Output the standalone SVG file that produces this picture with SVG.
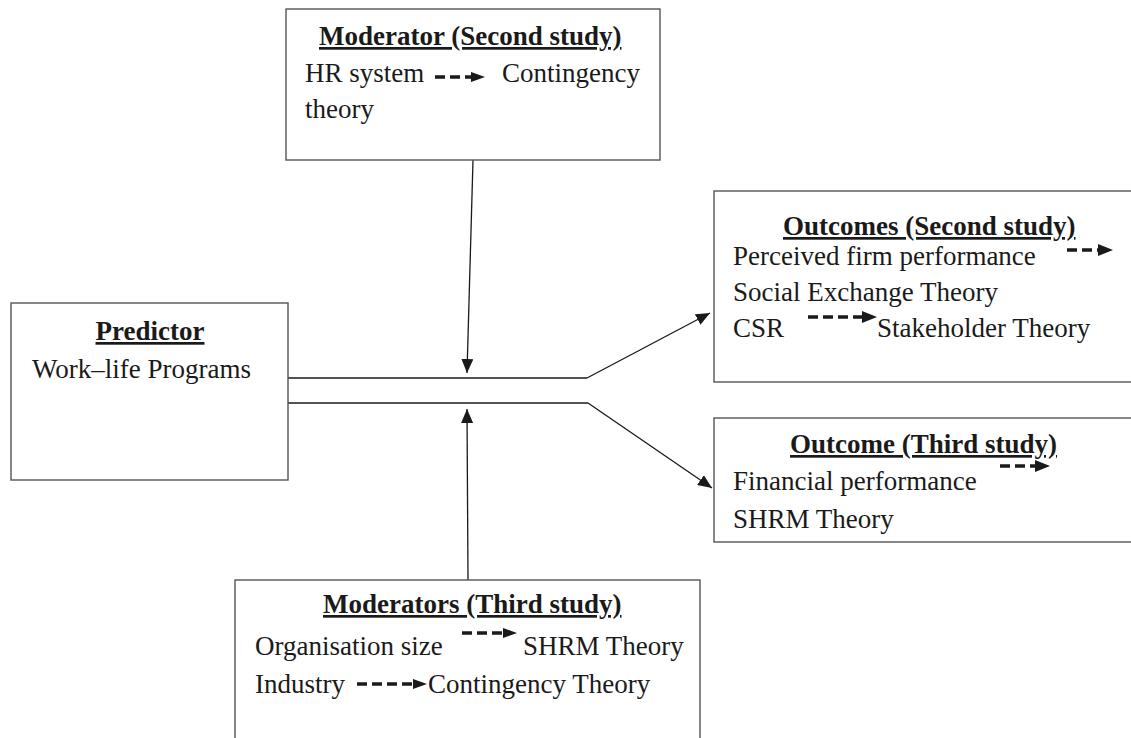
<svg xmlns="http://www.w3.org/2000/svg" width="1131" height="738" viewBox="0 0 1131 738">
  <style>
    .box { fill: #ffffff; stroke: #555555; stroke-width: 1.4; }
    .t { font-family: "Liberation Serif", "Times New Roman", serif; font-size: 27px; fill: #1a1a1a; }
    .h { font-weight: bold; text-decoration: underline; }
    .link { fill: none; stroke: #1a1a1a; stroke-width: 1.3; }
    .dash { fill: none; stroke: #1a1a1a; stroke-width: 3.5; stroke-dasharray: 10 5; }
    .head { fill: #1a1a1a; }
  </style>
  <defs>
    <marker id="tip" viewBox="0 0 14 12" refX="14" refY="6" markerWidth="14" markerHeight="12" markerUnits="userSpaceOnUse" orient="auto">
      <path d="M0,0 L14,6 L0,12 Z" fill="#1a1a1a"/>
    </marker>
  </defs>

  <rect width="1131" height="738" fill="#ffffff"/>

  <!-- connectors -->
  <g id="connectors">
    <line class="link" x1="288" y1="378" x2="587" y2="378"/>
    <line class="link" x1="288" y1="403" x2="588" y2="403"/>
    <line class="link" x1="473" y1="160" x2="467" y2="373" marker-end="url(#tip)"/>
    <line class="link" x1="468" y1="580" x2="467" y2="409" marker-end="url(#tip)"/>
    <line class="link" x1="587" y1="378" x2="710" y2="313" marker-end="url(#tip)"/>
    <line class="link" x1="588" y1="403" x2="712" y2="488" marker-end="url(#tip)"/>
  </g>

  <!-- moderator, second study -->
  <g id="moderator-second">
    <rect class="box" x="286" y="9" width="374" height="151"/>
    <text class="t h" x="319" y="45">Moderator (Second study)</text>
    <text class="t" x="305" y="82">HR system</text>
    <line class="dash" x1="435" y1="77" x2="472" y2="77"/>
    <path class="head" d="M471,72 L485,77 L471,82 Z"/>
    <text class="t" x="502" y="82">Contingency</text>
    <text class="t" x="305" y="118">theory</text>
  </g>

  <!-- predictor -->
  <g id="predictor">
    <rect class="box" x="11" y="303" width="277" height="177"/>
    <text class="t h" x="150" y="340" text-anchor="middle">Predictor</text>
    <text class="t" x="32" y="378">Work–life Programs</text>
  </g>

  <!-- outcomes, second study -->
  <g id="outcomes-second">
    <rect class="box" x="714" y="191" width="430" height="191"/>
    <text class="t h" x="783" y="235">Outcomes (Second study)</text>
    <text class="t" x="733" y="265">Perceived firm performance</text>
    <line class="dash" x1="1067" y1="250" x2="1099" y2="250"/>
    <path class="head" d="M1098,244 L1113,250 L1098,256 Z"/>
    <text class="t" x="733" y="301">Social Exchange Theory</text>
    <text class="t" x="733" y="337">CSR</text>
    <line class="dash" x1="808" y1="317" x2="863" y2="317"/>
    <path class="head" d="M862,311 L877,317 L862,323 Z"/>
    <text class="t" x="877" y="337">Stakeholder Theory</text>
  </g>

  <!-- outcome, third study -->
  <g id="outcome-third">
    <rect class="box" x="714" y="418" width="430" height="124"/>
    <text class="t h" x="790" y="453">Outcome (Third study)</text>
    <line class="dash" x1="1000" y1="466" x2="1036" y2="466"/>
    <path class="head" d="M1035,460 L1050,466 L1035,472 Z"/>
    <text class="t" x="733" y="490">Financial performance</text>
    <text class="t" x="733" y="528">SHRM Theory</text>
  </g>

  <!-- moderators, third study -->
  <g id="moderators-third">
    <rect class="box" x="235" y="580" width="465" height="170"/>
    <text class="t h" x="323" y="613">Moderators (Third study)</text>
    <text class="t" x="255" y="655">Organisation size</text>
    <line class="dash" x1="462" y1="633" x2="504" y2="633"/>
    <path class="head" d="M503,628 L517,633 L503,638 Z"/>
    <text class="t" x="523" y="655">SHRM Theory</text>
    <text class="t" x="255" y="693">Industry</text>
    <line class="dash" x1="357" y1="684" x2="414" y2="684"/>
    <path class="head" d="M413,679 L427,684 L413,689 Z"/>
    <text class="t" x="428" y="693">Contingency Theory</text>
  </g>
</svg>
